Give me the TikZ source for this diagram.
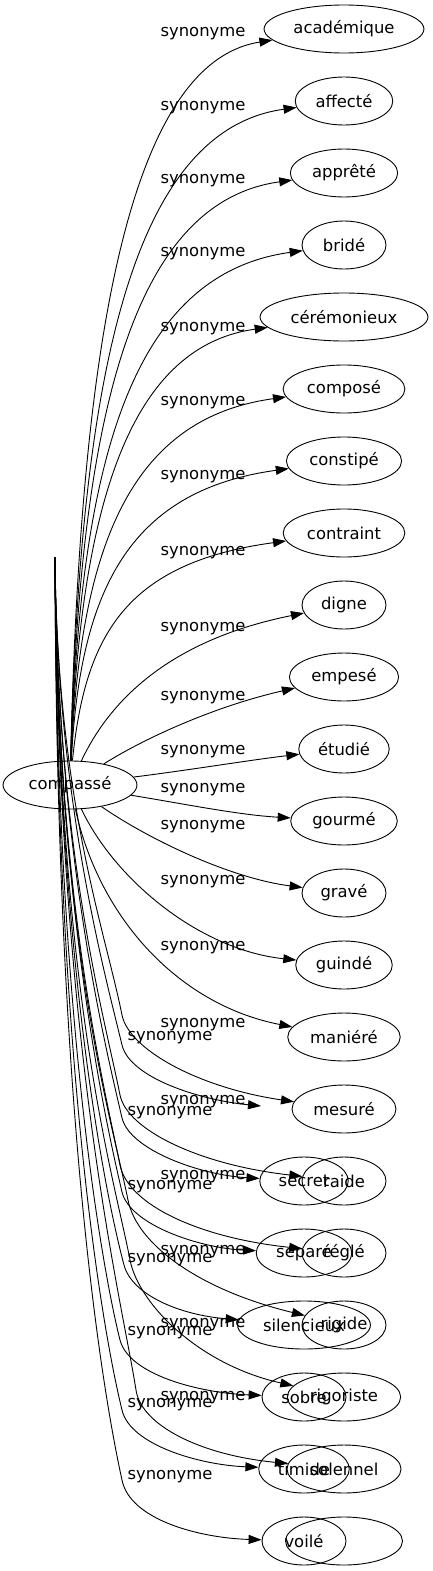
\documentclass[tikz,border=0pt]{standalone}
\usepackage{fontspec}
\setmainfont{DejaVu Sans}
\usetikzlibrary{arrows.meta,shapes.geometric}
\begin{document}
\begin{tikzpicture}[x=1pt,y=-1pt,font=\fontsize{16.4}{19}\selectfont,
    word/.style={draw,ellipse,line width=0.9pt,inner xsep=6pt,inner ysep=2pt,minimum width=84pt,minimum height=48pt},
    arr/.style={line width=0.9pt,-{Triangle[length=13pt,width=9pt]}}]
    \useasboundingbox (0,0) rectangle (433,1571);
    \node [word] (cmp) at (70,785) {compassé};
    \node [word] (aca) at (344,29) {académique};
    \node [word] (aff) at (344,101) {affecté};
    \node [word] (app) at (344,173) {apprêté};
    \node [word] (bri) at (344,245) {bridé};
    \node [word] (cer) at (344,317) {cérémonieux};
    \node [word] (cmo) at (344,389) {composé};
    \node [word] (cst) at (344,461) {constipé};
    \node [word] (ctr) at (344,533) {contraint};
    \node [word] (dig) at (344,605) {digne};
    \node [word] (emp) at (344,677) {empesé};
    \node [word] (etu) at (344,749) {étudié};
    \node [word] (gou) at (344,821) {gourmé};
    \node [word] (gra) at (344,893) {gravé};
    \node [word] (gui) at (344,965) {guindé};
    \node [word] (man) at (344,1037) {maniéré};
    \node [word] (mes) at (344,1109) {mesuré};
    \node [word] (rai) at (344,1181) {raide};
    \node [word] (reg) at (344,1253) {réglé};
    \node [word] (rig) at (344,1325) {rigide};
    \node [word] (rgo) at (344,1397) {rigoriste};
    \node [word] (sol) at (344,1469) {solennel};
    \node [word,minimum width=117pt] (emt) at (344,1541) {};
    \node [word] (sec) at (304,1181) {secret};
    \node [word] (sep) at (304,1253) {séparé};
    \node [word] (sil) at (304,1325) {silencieux};
    \node [word] (sob) at (304,1397) {sobre};
    \node [word] (tim) at (304,1469) {timide};
    \node [word] (voi) at (304,1541) {voilé};
    \coordinate (top) at (55,557);
    \coordinate (flt) at (261,1106);
    \draw [arr] (cmp) .. controls (80,359) and (125,63) .. (aca);
    \draw [arr] (cmp) .. controls (80,398) and (125,131) .. (aff);
    \draw [arr] (cmp) .. controls (80,438) and (125,203) .. (app);
    \draw [arr] (cmp) .. controls (80,477) and (125,275) .. (bri);
    \draw [arr] (cmp) .. controls (80,517) and (125,347) .. (cer);
    \draw [arr] (cmp) .. controls (80,556) and (125,419) .. (cmo);
    \draw [arr] (cmp) .. controls (80,596) and (125,491) .. (cst);
    \draw [arr] (cmp) .. controls (85,636) and (125,563) .. (ctr);
    \draw [arr] (cmp) .. controls (110,700) and (170,640) .. (dig);
    \draw [arr] (cmp) .. controls (150,735) and (220,705) .. (emp);
    \draw [arr] (cmp) .. controls (190,770) and (250,760) .. (etu);
    \draw [arr] (cmp) .. controls (190,805) and (240,815) .. (gou);
    \draw [arr] (cmp) .. controls (150,840) and (230,878) .. (gra);
    \draw [arr] (cmp) .. controls (115,880) and (200,950) .. (gui);
    \draw [arr] (cmp) .. controls (100,920) and (180,1005) .. (man);
    \draw [arr] (top) .. controls (57,800) and (105,930) .. (122,1015) .. controls (129,1050) and (200,1088) .. (mes);
    \draw [arr] (top) .. controls (57,850) and (103,1010) .. (120,1095) .. controls (127,1130) and (200,1165) .. (rai);
    \draw [arr] (top) .. controls (57,900) and (103,1080) .. (120,1165) .. controls (128,1205) and (200,1238) .. (reg);
    \draw [arr] (top) .. controls (58,950) and (112,1120) .. (128,1200) .. controls (137,1245) and (200,1290) .. (rig);
    \draw [arr] (top) .. controls (58,1000) and (115,1180) .. (130,1260) .. controls (139,1305) and (200,1365) .. (rgo);
    \draw [arr] (top) .. controls (58,1050) and (122,1300) .. (136,1390) .. controls (141,1425) and (200,1455) .. (sol);
    \draw [arr] (top) .. controls (57,800) and (104,970) .. (122,1045) .. controls (130,1078) and (200,1100) .. (flt);
    \draw [arr] (top) .. controls (57,850) and (104,1040) .. (122,1118) .. controls (130,1150) and (200,1175) .. (sec);
    \draw [arr] (top) .. controls (57,900) and (104,1115) .. (122,1192) .. controls (130,1225) and (200,1248) .. (sep);
    \draw [arr] (top) .. controls (57,950) and (104,1190) .. (124,1265) .. controls (132,1295) and (180,1315) .. (sil);
    \draw [arr] (top) .. controls (56,1000) and (100,1260) .. (120,1340) .. controls (129,1375) and (200,1393) .. (sob);
    \draw [arr] (top) .. controls (56,1050) and (100,1320) .. (122,1410) .. controls (130,1445) and (200,1465) .. (tim);
    \draw [arr] (top) .. controls (56,1100) and (100,1380) .. (122,1480) .. controls (130,1520) and (200,1538) .. (voi);
    \draw (203,34) node (s0) {synonyme};
    \draw (203,107.5) node (s1) {synonyme};
    \draw (203,181) node (s2) {synonyme};
    \draw (203,254) node (s3) {synonyme};
    \draw (203,329) node (s4) {synonyme};
    \draw (203,403) node (s5) {synonyme};
    \draw (203,477) node (s6) {synonyme};
    \draw (203,553) node (s7) {synonyme};
    \draw (203,629) node (s8) {synonyme};
    \draw (203,698) node (s9) {synonyme};
    \draw (203,752) node (s10) {synonyme};
    \draw (203,790) node (s11) {synonyme};
    \draw (203,827) node (s12) {synonyme};
    \draw (203,882) node (s13) {synonyme};
    \draw (203,948) node (s14) {synonyme};
    \draw (203,1025) node (s15) {synonyme};
    \draw (203,1102) node (s16) {synonyme};
    \draw (203,1177) node (s17) {synonyme};
    \draw (203,1252) node (s18) {synonyme};
    \draw (203,1325) node (s19) {synonyme};
    \draw (203,1398) node (s20) {synonyme};
    \draw (170,1038) node (t0) {synonyme};
    \draw (170,1113) node (t1) {synonyme};
    \draw (170,1187) node (t2) {synonyme};
    \draw (170,1260) node (t3) {synonyme};
    \draw (170,1333) node (t4) {synonyme};
    \draw (170,1405) node (t5) {synonyme};
    \draw (170,1477) node (t6) {synonyme};
\end{tikzpicture}
\end{document}
